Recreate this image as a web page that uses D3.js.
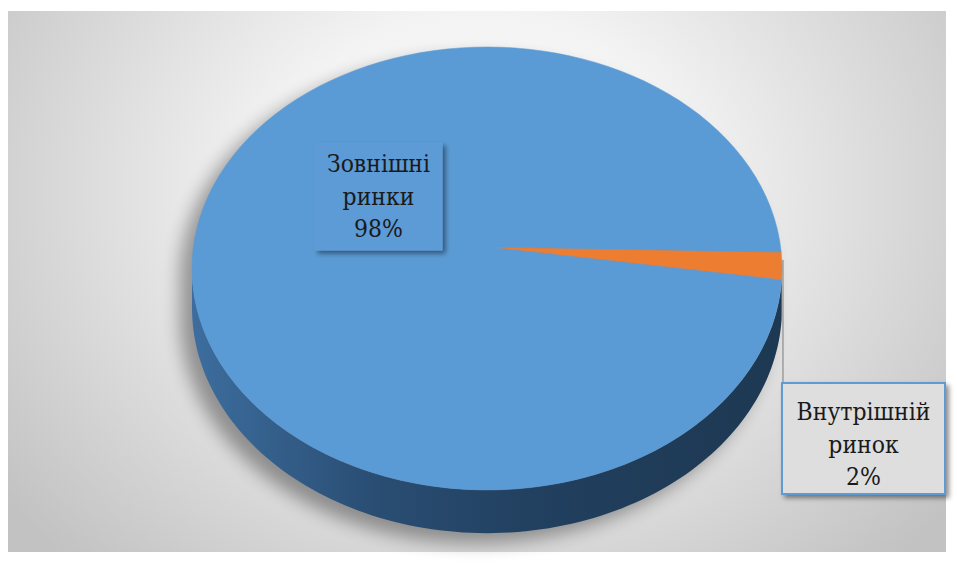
<!DOCTYPE html>
<html>
<head>
<meta charset="utf-8">
<script src="https://cdn.jsdelivr.net/npm/d3@7"></script>
<style>
html,body{margin:0;padding:0;background:#ffffff;}
svg{display:block;}
.lbl{font-family:"DejaVu Serif",serif;}
</style>
</head>
<body>
<svg id="chart" width="957" height="580"></svg>
<script>
// ---- data ----
const categories = ["Внутрішній ринок", "Зовнішні ринки"];
const values = [2, 98];
const labelLines = [["Внутрішній", "ринок", "2%"], ["Зовнішні", "ринки", "98%"]];
const colors = ["#ed7d31", "#5b9bd5"];
const wallColors = ["#a9561f", null];

// ---- geometry ----
const cx = 487, cy = 247;      // projected pie centre
const A = 293.6, B = 219.4, E = 0.097; // perspective ellipse params
const depth = 39;
const deg = Math.PI / 180;
const startAngle = 91.3 * deg;

const svg = d3.select("#chart");
const defs = svg.append("defs");

const bg = defs.append("radialGradient").attr("id", "bg")
  .attr("gradientUnits", "userSpaceOnUse")
  .attr("cx", 480).attr("cy", 190).attr("r", 600)
  .attr("gradientTransform", "translate(480,190) scale(1,0.85) translate(-480,-190)");
bg.append("stop").attr("offset", "0%").attr("stop-color", "#ffffff");
bg.append("stop").attr("offset", "35%").attr("stop-color", "#f3f3f3");
bg.append("stop").attr("offset", "100%").attr("stop-color", "#c2c2c2");

const wallGrad = defs.append("linearGradient").attr("id", "wall")
  .attr("gradientUnits", "userSpaceOnUse")
  .attr("x1", 190).attr("y1", 0).attr("x2", 785).attr("y2", 0);
wallGrad.append("stop").attr("offset", "0%").attr("stop-color", "#3d6e9f");
wallGrad.append("stop").attr("offset", "30%").attr("stop-color", "#2a4e74");
wallGrad.append("stop").attr("offset", "60%").attr("stop-color", "#213f5e");
wallGrad.append("stop").attr("offset", "100%").attr("stop-color", "#1d3852");

const blur = defs.append("filter").attr("id", "blur")
  .attr("x", "-20%").attr("y", "-20%").attr("width", "140%").attr("height", "140%");
blur.append("feGaussianBlur").attr("stdDeviation", 9);

const ds = defs.append("filter").attr("id", "ds")
  .attr("x", "-20%").attr("y", "-20%").attr("width", "150%").attr("height", "150%");
ds.append("feDropShadow").attr("dx", 3).attr("dy", 3).attr("stdDeviation", 2.5)
  .attr("flood-color", "#000").attr("flood-opacity", 0.45);

svg.append("rect").attr("x", 8).attr("y", 11).attr("width", 938).attr("height", 541)
  .attr("fill", "url(#bg)");

function proj(a, r = 1, dy = 0) {
  const u = r * Math.sin(a), v = -r * Math.cos(a);
  const k = 1 / (1 - E * v);
  return [cx + A * u * k, cy + B * v * k + dy * k];
}
const line = d3.line();
const sample = (a0, a1, r, dy) => d3.range(0, 1.0001, 1 / 120).map(t => proj(a0 + (a1 - a0) * t, r, dy));

const pie = d3.pie().sort(null).startAngle(startAngle).endAngle(startAngle + 2 * Math.PI);
const arcs = pie(values);

const wallA0 = Math.PI / 2 + Math.asin(E);
const wallA1 = 3 * Math.PI / 2 - Math.asin(E);

// soft shadow under the pie
const wallBottom = sample(wallA0, wallA1, 1, depth);
svg.append("path")
  .attr("d", line(sample(wallA1, wallA0 + 2 * Math.PI, 1, 0).concat(wallBottom)) + "Z")
  .attr("transform", "translate(-12,10)")
  .attr("fill", "#000").attr("opacity", 0.36)
  .attr("filter", "url(#blur)");

function wallPath(a0, a1) {
  const top = sample(a0, a1, 1, 0);
  const bot = sample(a1, a0, 1, depth);
  return line(top.concat(bot)) + "Z";
}
arcs.forEach((d, i) => {
  let a0 = Math.max(d.startAngle, wallA0), a1 = Math.min(d.endAngle, wallA1);
  if (a1 > a0) {
    svg.append("path").attr("d", wallPath(a0, a1))
      .attr("fill", i === 1 ? "url(#wall)" : wallColors[i]);
  }
});

arcs.forEach((d, i) => {
  const pts = [proj(0, 0)].concat(sample(d.startAngle, d.endAngle, 1, 0));
  svg.append("path").attr("d", line(pts) + "Z")
    .attr("fill", colors[i]).attr("stroke", colors[i]).attr("stroke-width", 0.5);
});

const edge = proj((arcs[0].startAngle + arcs[0].endAngle) / 2);
svg.append("line")
  .attr("x1", edge[0] + 1).attr("y1", edge[1] - 6)
  .attr("x2", edge[0] + 1).attr("y2", 383)
  .attr("stroke", "#8c8c8c").attr("stroke-width", 1.2);

const boxes = [
  {x: 782, y: 383, w: 163, h: 111, fill: "#dedede", stroke: "#5b9bd5", sw: 2, lines: labelLines[0], baseline: 420},
  {x: 315, y: 143, w: 127, h: 107, fill: "#5b9bd5", stroke: "#5e9ed8", sw: 1, lines: labelLines[1], baseline: 172}
];
boxes.forEach(b => {
  const g = svg.append("g");
  g.append("rect").attr("x", b.x).attr("y", b.y).attr("width", b.w).attr("height", b.h)
    .attr("fill", b.fill).attr("stroke", b.stroke).attr("stroke-width", b.sw)
    .attr("filter", "url(#ds)");
  g.selectAll("text").data(b.lines).join("text")
    .attr("class", "lbl")
    .attr("transform", (d, j) => `translate(${b.x + b.w / 2},${b.baseline + j * 32.5}) scale(0.88,1)`)
    .attr("text-anchor", "middle")
    .attr("font-size", 25)
    .attr("fill", "#1a1a1a")
    .text(d => d);
});
</script>
</body>
</html>
